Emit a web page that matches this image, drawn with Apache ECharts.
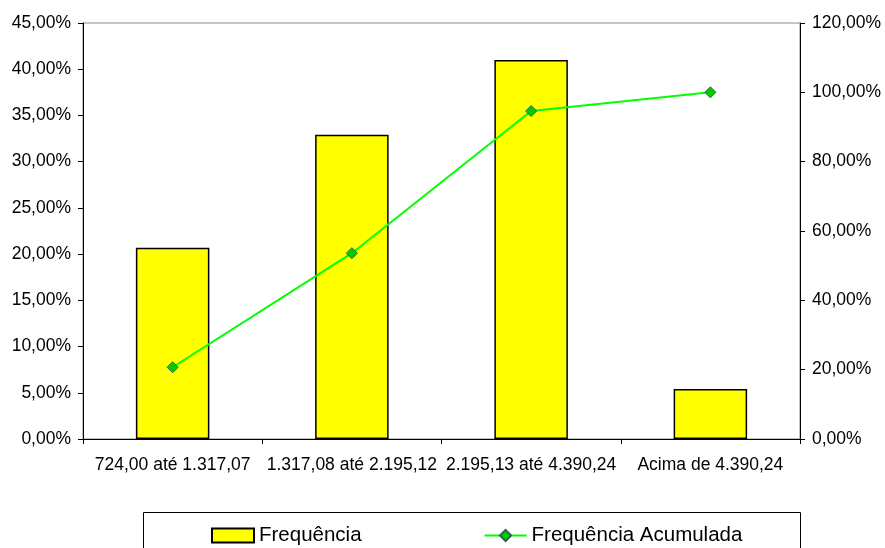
<!DOCTYPE html>
<html><head><meta charset="utf-8">
<script src="https://cdn.jsdelivr.net/npm/echarts@6/dist/echarts.min.js"></script>
<style>html,body{margin:0;padding:0;background:#fff}#c{width:885px;height:548px}</style>
</head><body><div id="c"></div>
<script>
var categories = ['724,00 até 1.317,07', '1.317,08 até 2.195,12', '2.195,13 até 4.390,24', 'Acima de 4.390,24'];
var frequencia = [20.7, 32.9, 41.0, 5.4];
var acumulada = [20.7, 53.6, 94.6, 100.0];
var leftTicks = {min: 0, max: 45, interval: 5};
var rightTicks = {min: 0, max: 120, interval: 20};

function pct(v){ return v.toFixed(2).replace('.', ',') + '%'; }
var FONT = 'Liberation Sans';
var chart = echarts.init(document.getElementById('c'), null, {renderer: 'canvas'});
chart.setOption({
  animation: false,
  backgroundColor: '#fff',
  textStyle: {fontFamily: FONT},
  grid: {left: 83, right: 85, top: 23, bottom: 109, show: true, borderColor: '#888', borderWidth: 1},
  xAxis: {
    type: 'category', data: categories,
    axisLine: {lineStyle: {color: '#000', width: 1}},
    axisTick: {show: true, alignWithLabel: false, length: 5, lineStyle: {color: '#000'}},
    axisLabel: {color: '#000', fontSize: 17.5, fontFamily: FONT, margin: 17, interval: 0}
  },
  yAxis: [{
    type: 'value', min: leftTicks.min, max: leftTicks.max, interval: leftTicks.interval,
    axisLine: {show: true, lineStyle: {color: '#000'}},
    axisTick: {show: true, length: 5, lineStyle: {color: '#000'}},
    splitLine: {show: false},
    axisLabel: {color: '#000', fontSize: 17.5, fontFamily: FONT, margin: 12, formatter: pct}
  }, {
    type: 'value', min: rightTicks.min, max: rightTicks.max, interval: rightTicks.interval, position: 'right',
    axisLine: {show: true, lineStyle: {color: '#000'}},
    axisTick: {show: true, length: 5, lineStyle: {color: '#000'}},
    splitLine: {show: false},
    axisLabel: {color: '#000', fontSize: 17.5, fontFamily: FONT, margin: 12, formatter: pct}
  }],
  legend: {
    left: 206, top: 520, itemGap: 122, itemWidth: 42, itemHeight: 14,
    textStyle: {fontSize: 20.5, fontFamily: FONT, color: '#000'},
    data: [{name: 'Frequência', icon: 'rect'}, {name: 'Frequência Acumulada'}]
  },
  graphic: [{
    type: 'rect', left: 143, top: 512, silent: true, z: -1,
    shape: {width: 657, height: 60},
    style: {fill: '#fff', stroke: '#000', lineWidth: 1}
  }],
  series: [{
    name: 'Frequência', type: 'bar', data: frequencia, yAxisIndex: 0,
    barWidth: '41%',
    itemStyle: {color: '#FFFF00', borderColor: '#000', borderWidth: 1.5}
  }, {
    name: 'Frequência Acumulada', type: 'line', data: acumulada, yAxisIndex: 1,
    symbol: 'diamond', symbolSize: 11,
    lineStyle: {color: '#00FF00', width: 2},
    itemStyle: {color: '#00CC00', borderColor: '#2F5F5F', borderWidth: 1}
  }]
});
</script></body></html>
